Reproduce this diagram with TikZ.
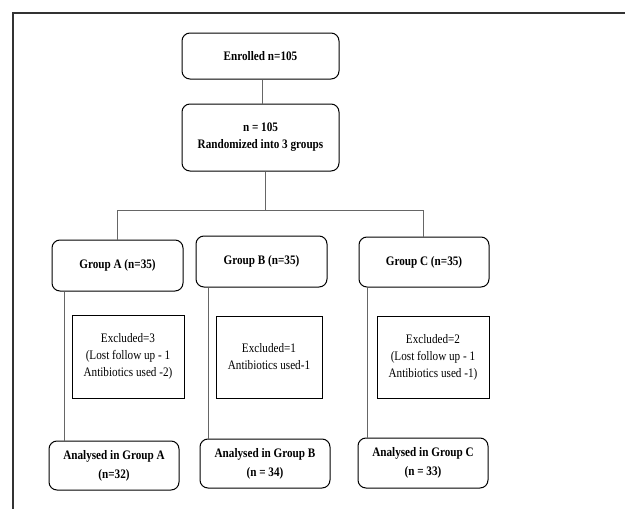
\documentclass[tikz,border=0pt]{standalone}
\usepackage{fontspec}
\setmainfont{Liberation Serif}[FakeStretch=0.86]
\usetikzlibrary{calc}

\begin{document}
\begin{tikzpicture}[x=1pt,y=-1pt]
\tikzstyle{rbox}=[rectangle,rounded corners=8pt,draw=black,line width=1pt,align=center,font=\fontsize{13}{17}\selectfont\bfseries,inner sep=0pt]
\tikzstyle{xbox}=[rectangle,draw=black,line width=1pt,align=center,font=\fontsize{13}{17}\selectfont,inner sep=0pt]
\tikzstyle{link}=[draw=black!60,line width=0.6pt]

\useasboundingbox (0,0) rectangle (625,509);

%FRAME
\draw[black!80,line width=1.2pt] (625,13) -- (13,13) -- (13,509);

%%%%%%%%%%%%%%%%%%%%%%%%%%%%%%%%%%%%%%%%%%%%%%%%%%%%%%%%%%%%%%%%%%%%%%%%
%top
\node[rbox,minimum width=157pt,minimum height=46pt] (enrolled) at (260.5,56) {Enrolled n=105};
\node[rbox,minimum width=157pt,minimum height=67pt] (random) at (260.5,137.5) {n = 105\\Randomized into 3 groups};

%%%%%%%%%%%%%%%%%%%%%%%%%%%%%%%%%%%%%%%%%%%%%%%%%%%%%%%%%%%%%%%%%%%%%%%%
%groups
\node[rbox,minimum width=131pt,minimum height=51pt] (groupA) at (117.5,265.5) {Group A (n=35)};
\node[rbox,minimum width=131pt,minimum height=51pt] (groupB) at (261.5,261.5) {Group B (n=35)};
\node[rbox,minimum width=130pt,minimum height=50pt] (groupC) at (424,262) {Group C (n=35)};

%%%%%%%%%%%%%%%%%%%%%%%%%%%%%%%%%%%%%%%%%%%%%%%%%%%%%%%%%%%%%%%%%%%%%%%%
%excluded
\node[xbox,minimum width=112pt,minimum height=83pt] (excludA) at (128,356.5) {Excluded=3\\(Lost follow up - 1\\Antibiotics used -2)};
\node[xbox,minimum width=106pt,minimum height=82pt] (excludB) at (269,357) {Excluded=1\\Antibiotics used-1};
\node[xbox,minimum width=112pt,minimum height=82pt] (excludC) at (433,357) {Excluded=2\\(Lost follow up - 1\\Antibiotics used -1)};

%%%%%%%%%%%%%%%%%%%%%%%%%%%%%%%%%%%%%%%%%%%%%%%%%%%%%%%%%%%%%%%%%%%%%%%%
%analysed
\node[rbox,minimum width=130pt,minimum height=49pt,font=\fontsize{13}{19}\selectfont\bfseries] (analysA) at (114,465.5) {Analysed in Group A\\(n=32)};
\node[rbox,minimum width=130pt,minimum height=49pt,font=\fontsize{13}{19}\selectfont\bfseries] (analysB) at (265,463.5) {Analysed in Group B\\(n = 34)};
\node[rbox,minimum width=130pt,minimum height=50pt,font=\fontsize{13}{19}\selectfont\bfseries] (analysC) at (423,463) {Analysed in Group C\\(n = 33)};

%%%%%%%%%%%%%%%%%%%%%%%%%%%%%%%%%%%%%%%%%%%%%%%%%%%%%%%%%%%%%%
%LINES

% top
\draw[link] ($(enrolled.south)+(1.5,0)$) -- ($(random.north)+(1.5,0)$);

% split into groups
\coordinate (splitA) at (117,210);
\coordinate (splitC) at (423,210);
\draw[link] ($(random.south)+(4.5,0)$) -- ($(random.south)+(4.5,39)$);
\draw[link] (splitA) -- (splitC);
\draw[link] (splitA) -- (splitA |- groupA.north);
\draw[link] (splitC) -- (splitC |- groupC.north);

% groups -> analysed
\draw[link] ($(groupA.south west)+(13,0)$) -- ($(analysA.north west)+(16,0)$);
\draw[link] ($(groupB.south west)+(13,0)$) -- ($(analysB.north west)+(9,0)$);
\draw[link] ($(groupC.south west)+(9,0)$) -- ($(analysC.north west)+(10,0)$);

\end{tikzpicture}
\end{document}
